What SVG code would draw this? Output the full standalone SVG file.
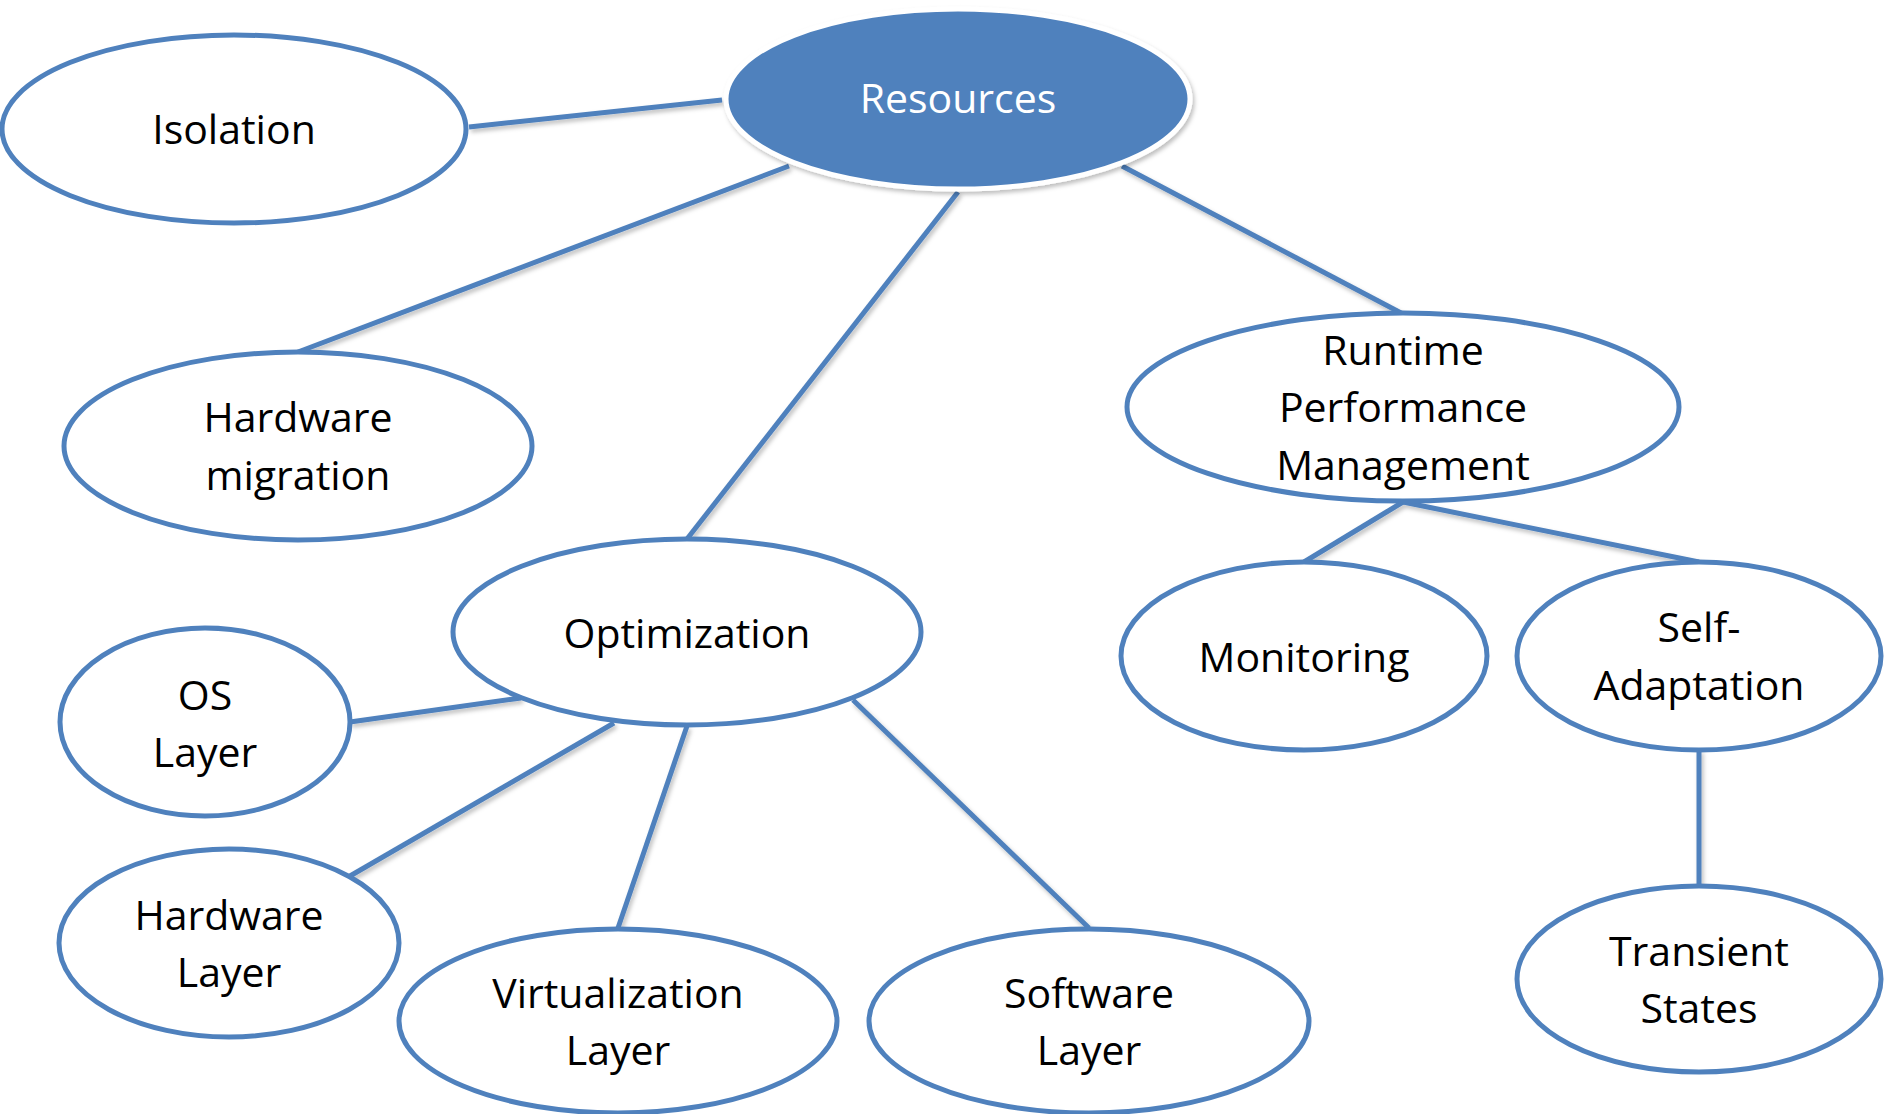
<svg xmlns="http://www.w3.org/2000/svg" width="1884" height="1114" viewBox="0 0 1884 1114">
<defs>
<filter id="sh" x="-20%" y="-20%" width="140%" height="140%">
<feDropShadow dx="2" dy="3" stdDeviation="2" flood-color="#000" flood-opacity="0.25"/>
</filter>
<style>
.n{fill:#fff;stroke:#4F81BD;stroke-width:5}
.t{font-family:"Open Sans","Liberation Sans",sans-serif;font-size:41px;fill:#000;text-anchor:middle}
.c line{stroke:#4F81BD;stroke-width:5}
</style>
</defs>
<rect width="1884" height="1114" fill="#fff"/>
<g id="connectors" class="c" filter="url(#sh)">
<line x1="469" y1="127" x2="722" y2="100"/>
<line x1="298" y1="352" x2="789" y2="166"/>
<line x1="687" y1="539" x2="958" y2="192"/>
<line x1="1122" y1="166" x2="1403" y2="314"/>
<line x1="350" y1="722" x2="521" y2="698"/>
<line x1="350" y1="876" x2="614" y2="723"/>
<line x1="618" y1="928" x2="687" y2="726"/>
<line x1="1089" y1="928" x2="853" y2="700"/>
<line x1="1304" y1="562" x2="1403" y2="502"/>
<line x1="1699" y1="562" x2="1403" y2="502"/>
<line x1="1699" y1="750" x2="1699" y2="885"/>
</g>
<g id="resources">
<ellipse cx="958" cy="99" rx="232" ry="90" fill="#4F81BD" stroke="#fff" stroke-width="5" filter="url(#sh)"/>
<text class="t" x="958" y="113" style="fill:#fff">Resources</text>
</g>
<g id="isolation">
<ellipse class="n" cx="234" cy="129" rx="232" ry="94"/>
<text class="t" x="234" y="144">Isolation</text>
</g>
<g id="hardware-migration">
<ellipse class="n" cx="298" cy="446" rx="234" ry="94"/>
<text class="t" x="298" y="432">Hardware</text>
<text class="t" x="298" y="490">migration</text>
</g>
<g id="optimization">
<ellipse class="n" cx="687" cy="632" rx="234" ry="93"/>
<text class="t" x="687" y="648">Optimization</text>
</g>
<g id="runtime">
<ellipse class="n" cx="1403" cy="407" rx="276" ry="94"/>
<text class="t" x="1403" y="365">Runtime</text>
<text class="t" x="1403" y="422">Performance</text>
<text class="t" x="1403" y="480">Management</text>
</g>
<g id="monitoring">
<ellipse class="n" cx="1304" cy="656" rx="183" ry="94"/>
<text class="t" x="1304" y="672">Monitoring</text>
</g>
<g id="self-adaptation">
<ellipse class="n" cx="1699" cy="656" rx="182" ry="94"/>
<text class="t" x="1699" y="642">Self-</text>
<text class="t" x="1699" y="700">Adaptation</text>
</g>
<g id="transient-states">
<ellipse class="n" cx="1699" cy="979" rx="182" ry="93"/>
<text class="t" x="1699" y="966">Transient</text>
<text class="t" x="1699" y="1023">States</text>
</g>
<g id="os-layer">
<ellipse class="n" cx="205" cy="722" rx="145" ry="94"/>
<text class="t" x="205" y="710">OS</text>
<text class="t" x="205" y="767">Layer</text>
</g>
<g id="hardware-layer">
<ellipse class="n" cx="229" cy="943" rx="170" ry="94"/>
<text class="t" x="229" y="930">Hardware</text>
<text class="t" x="229" y="987">Layer</text>
</g>
<g id="virtualization-layer">
<ellipse class="n" cx="618" cy="1021" rx="219" ry="92"/>
<text class="t" x="618" y="1008">Virtualization</text>
<text class="t" x="618" y="1065">Layer</text>
</g>
<g id="software-layer">
<ellipse class="n" cx="1089" cy="1021" rx="220" ry="92"/>
<text class="t" x="1089" y="1008">Software</text>
<text class="t" x="1089" y="1065">Layer</text>
</g>
</svg>
